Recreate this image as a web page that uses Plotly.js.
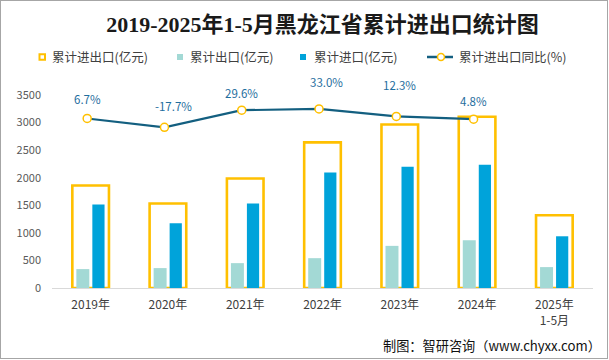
<!DOCTYPE html>
<html>
<head>
<meta charset="utf-8">
<script src="https://cdn.plot.ly/plotly-3.0.1.min.js"></script>
<style>
  html, body { margin: 0; padding: 0; background: #fff; }
  #wrap { position: relative; width: 609px; height: 360px; }
  #chart { width: 609px; height: 360px; }
  #frame { position: absolute; left: 0; top: 0; width: 608px; height: 359px; box-sizing: border-box;
           border: 1px solid #A6A6A6; pointer-events: none; }
</style>
</head>
<body>
<div id="wrap"><div id="chart"></div><div id="frame"></div></div>
<script>
// ---- data ----
const categories = ['2019年', '2020年', '2021年', '2022年', '2023年', '2024年', '2025年<br>1-5月'];
const totalTrade = [1858, 1533, 1985, 2640, 2965, 3105, 1320];   // 累计进出口(亿元)
const exportVals = [343, 361, 451, 541, 764, 866, 379];          // 累计出口(亿元)
const importVals = [1515, 1173, 1533, 2093, 2201, 2237, 938];    // 累计进口(亿元)
const growthCats = ['2019年', '2020年', '2021年', '2022年', '2023年', '2024年'];
const growthVals = [6.7, -17.7, 29.6, 33.0, 12.3, 4.8];          // 累计进出口同比(%)
const yTicks = [0, 500, 1000, 1500, 2000, 2500, 3000, 3500];

// label placement (style)
const labelShiftY = [19, 21, 17, 27, 31, 18];
const labelShiftX = [0, 9, 0, 7, 3, 0];

const W = 609, H = 360, ML = 52, MR = 16, MT = 95, MB = 72;
const PW = W - ML - MR, PH = H - MT - MB;
const xp = px => (px - ML) / PW;
const yp = py => (H - MB - py) / PH;

const YELLOW = '#FFC000', TEAL = '#A3D9D5', BLUE = '#00A3DA', LINE = '#135F80';
const FONT = '"Noto Sans CJK SC", "Noto Sans", sans-serif';

const traces = [
  { type: 'bar', name: '累计进出口(亿元)', x: categories, y: totalTrade,
    width: 0.474, offset: -0.237,
    marker: { color: 'rgba(0,0,0,0)', line: { color: YELLOW, width: 2.6 } },
    hoverinfo: 'x+y' },
  { type: 'bar', name: '累计出口(亿元)', x: categories, y: exportVals,
    width: 0.168, offset: -0.185, marker: { color: TEAL } },
  { type: 'bar', name: '累计进口(亿元)', x: categories, y: importVals,
    width: 0.158, offset: 0.022, marker: { color: BLUE } },
  { type: 'scatter', mode: 'lines+markers', name: '累计进出口同比(%)',
    x: growthCats, y: growthVals, xaxis: 'x2', yaxis: 'y2',
    line: { color: LINE, width: 2.2 },
    marker: { symbol: 'circle', size: 8, color: '#FFFFFF', line: { color: YELLOW, width: 1.5 } },
    cliponaxis: false }
];

const annotations = growthVals.map((v, i) => ({
  x: growthCats[i], y: v, xref: 'x2', yref: 'y2',
  text: v.toFixed(1) + '%', showarrow: false,
  xshift: labelShiftX[i], yshift: labelShiftY[i],
  font: { family: FONT, size: 11.5, color: '#1F6E9E' }
}));

// manual legend
const legendItems = [
  { text: '累计进出口(亿元)', tx: 50 },
  { text: '累计出口(亿元)', tx: 188 },
  { text: '累计进口(亿元)', tx: 312 },
  { text: '累计进出口同比(%)', tx: 457 }
];
const LY = 57;
legendItems.forEach(it => annotations.push({
  xref: 'paper', yref: 'paper', x: xp(it.tx), y: yp(LY), xanchor: 'left', yanchor: 'middle',
  text: it.text, showarrow: false, font: { family: FONT, size: 12.5, color: '#404040' }
}));
annotations.push({
  xref: 'paper', yref: 'paper', x: xp(603), y: yp(345), xanchor: 'right', yanchor: 'middle',
  text: '制图：智研咨询（www.chyxx.com）', showarrow: false,
  font: { family: FONT, size: 13.2, color: '#111111' }
});

const shapes = [
  { type: 'rect', xref: 'paper', yref: 'paper', x0: xp(39.5), x1: xp(45), y0: yp(54.3), y1: yp(59.8),
    line: { color: YELLOW, width: 2 }, fillcolor: 'rgba(0,0,0,0)' },
  { type: 'rect', xref: 'paper', yref: 'paper', x0: xp(177), x1: xp(183), y0: yp(54), y1: yp(60),
    line: { width: 0 }, fillcolor: TEAL },
  { type: 'rect', xref: 'paper', yref: 'paper', x0: xp(300), x1: xp(306), y0: yp(54), y1: yp(60),
    line: { width: 0 }, fillcolor: BLUE },
  { type: 'line', xref: 'paper', yref: 'paper', x0: xp(427), x1: xp(453), y0: yp(LY), y1: yp(LY),
    line: { color: LINE, width: 2.5 } },
  { type: 'circle', xref: 'paper', yref: 'paper', x0: xp(437.5), x1: xp(444.5), y0: yp(53.5), y1: yp(60.5),
    line: { color: YELLOW, width: 1.5 }, fillcolor: '#FFFFFF' }
];

const layout = {
  width: W, height: H,
  margin: { l: ML, r: MR, t: MT, b: MB, pad: 0 },
  paper_bgcolor: '#FFFFFF', plot_bgcolor: '#FFFFFF',
  showlegend: false,
  barmode: 'overlay',
  title: { text: '2019-2025年1-5月黑龙江省累计进出口统计图',
           font: { family: '"Liberation Serif", "Noto Sans CJK SC", serif', size: 22, color: '#1a1a1a', weight: 'bold' },
           x: 0.5, xanchor: 'center', xref: 'paper', y: 1 - 24 / H, yanchor: 'middle' },
  xaxis: { type: 'category', categoryarray: categories, range: [-0.5, 6.5],
           showline: true, linecolor: '#D9D9D9', linewidth: 1, showgrid: false, zeroline: false,
           ticks: '', ticklabelstandoff: 6,
           tickfont: { family: FONT, size: 12, color: '#404040' }, fixedrange: true },
  yaxis: { range: [0, 3500], tickvals: yTicks, ticktext: yTicks.map(String),
           showgrid: false, zeroline: false, showline: false, ticks: '', ticklabelstandoff: 10,
           tickfont: { family: FONT, size: 11, color: '#595959' }, fixedrange: true },
  xaxis2: { type: 'category', categoryarray: categories, overlaying: 'x', range: [-0.455, 6.545],
            visible: false, fixedrange: true },
  yaxis2: { overlaying: 'y', range: [-462.9, 71.7], visible: false, fixedrange: true },
  annotations: annotations,
  shapes: shapes
};

Plotly.newPlot('chart', traces, layout, { staticPlot: true, displayModeBar: false });
</script>
</body>
</html>
